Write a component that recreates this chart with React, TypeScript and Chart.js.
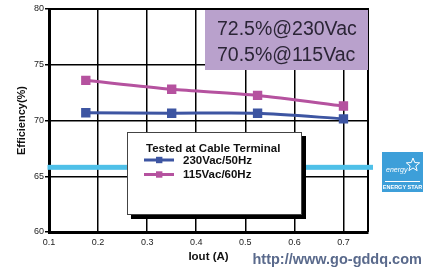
import React, { useEffect, useRef } from 'react';
import { Chart, registerables } from 'chart.js';

Chart.register(...registerables);

// ---- data ----
const LOAD_CURRENT = [0.175, 0.35, 0.525, 0.7];
const EFF_230VAC = [70.7, 70.65, 70.65, 70.15];
const EFF_115VAC = [73.6, 72.8, 72.25, 71.3];
const SERIES_LABELS = ['230Vac/50Hz', '115Vac/60Hz'];
const SERIES_COLORS = ['#3d55a2', '#b5529f'];
const LEGEND_TITLE = 'Tested at Cable Terminal';
const ANNOTATION_LINES = ['72.5%@230Vac', '70.5%@115Vac'];
const ENERGY_STAR_LIMIT = 65.8;
const X_RANGE = [0.1, 0.75];
const X_STEP = 0.1;
const Y_RANGE = [60, 80];
const Y_STEP = 5;
const X_TITLE = 'Iout (A)';
const Y_TITLE = 'Efficiency(%)';
const FOOTER_TEXT = 'http://www.go-gddq.com';

const FONT = '"Liberation Sans", Arial, Helvetica, sans-serif';

const overlayPlugin = {
  id: 'overlay',
  afterDatasetsDraw(chart: any) {
    const { ctx, chartArea: a, scales } = chart;
    ctx.save();
    // frame top/right
    ctx.strokeStyle = '#000';
    ctx.lineWidth = 2;
    ctx.beginPath();
    ctx.moveTo(a.left, a.top);
    ctx.lineTo(a.right, a.top);
    ctx.lineTo(a.right, a.bottom);
    ctx.stroke();

    // energy star limit line
    const yc = scales.y.getPixelForValue(ENERGY_STAR_LIMIT);
    ctx.fillStyle = '#4fc0e8';
    ctx.fillRect(a.left - 1.5, yc - 2.5, a.right - a.left + 6.5, 5);

    // annotation box
    const bx = a.left + 156;
    const by = a.top + 1;
    ctx.fillStyle = '#b9a1cc';
    ctx.fillRect(bx, by, a.right - bx, 60);
    ctx.fillStyle = '#2b2536';
    ctx.font = `19.5px ${FONT}`;
    ctx.textAlign = 'left';
    ctx.textBaseline = 'alphabetic';
    ctx.fillText(ANNOTATION_LINES[0], bx + 12, a.top + 26);
    ctx.fillText(ANNOTATION_LINES[1], bx + 12, a.top + 52);

    // legend box
    const lx = a.left + 78;
    const ly = a.top + 123;
    const lw = 175;
    const lh = 83;
    ctx.fillStyle = '#000';
    ctx.fillRect(lx + 4, ly + 4, lw, lh);
    ctx.fillStyle = '#fff';
    ctx.fillRect(lx, ly, lw, lh);
    ctx.strokeStyle = '#444';
    ctx.lineWidth = 1;
    ctx.strokeRect(lx + 0.5, ly + 0.5, lw - 1, lh - 1);
    ctx.fillStyle = '#111';
    ctx.font = `bold 11.5px ${FONT}`;
    ctx.fillText(LEGEND_TITLE, lx + 19, ly + 19.5);
    chart.data.datasets.forEach((ds: any, i: number) => {
      const cy = ly + 28 + i * 14.5;
      ctx.strokeStyle = ds.borderColor;
      ctx.lineWidth = 3;
      ctx.beginPath();
      ctx.moveTo(lx + 17, cy);
      ctx.lineTo(lx + 47, cy);
      ctx.stroke();
      ctx.fillStyle = ds.borderColor;
      ctx.fillRect(lx + 29, cy - 3.2, 6.4, 6.4);
      ctx.fillStyle = '#111';
      ctx.textBaseline = 'middle';
      ctx.fillText(ds.label, lx + 56, cy + 0.5);
      ctx.textBaseline = 'alphabetic';
    });
    ctx.restore();
  },
  afterDraw(chart: any) {
    const { ctx } = chart;
    ctx.save();
    // footer url
    ctx.fillStyle = '#5a6a8c';
    ctx.font = `bold 14.5px ${FONT}`;
    ctx.textAlign = 'left';
    ctx.textBaseline = 'alphabetic';
    ctx.fillText(FOOTER_TEXT, 252.5, 263.5);

    // energy star badge
    const ex = 382, ey = 152, ew = 41, eh = 40;
    ctx.fillStyle = '#3d9fd9';
    ctx.fillRect(ex, ey, ew, eh);
    ctx.strokeStyle = '#fff';
    ctx.lineWidth = 1;
    ctx.beginPath();
    ctx.moveTo(ex + 3, ey + 29.5);
    ctx.lineTo(ex + ew - 3, ey + 29.5);
    ctx.stroke();
    // star outline
    const sx = ex + 31, sy = ey + 13, R = 7, r = 3;
    ctx.beginPath();
    for (let k = 0; k < 10; k++) {
      const ang = -Math.PI / 2 + (k * Math.PI) / 5;
      const rr = k % 2 === 0 ? R : r;
      const px = sx + rr * Math.cos(ang);
      const py = sy + rr * Math.sin(ang);
      if (k === 0) ctx.moveTo(px, py); else ctx.lineTo(px, py);
    }
    ctx.closePath();
    ctx.stroke();
    ctx.fillStyle = '#fff';
    ctx.font = `italic 7px ${FONT}`;
    ctx.fillText('energy', ex + 4, ey + 20);
    ctx.font = `bold 5.5px ${FONT}`;
    ctx.textAlign = 'center';
    ctx.fillText('ENERGY STAR', ex + ew / 2, ey + 36.5);
    ctx.restore();
  },
};

export default function App() {
  const ref = useRef<HTMLCanvasElement | null>(null);

  useEffect(() => {
    if (!ref.current) return;
    const chart = new Chart(ref.current, {
      type: 'line',
      data: {
        datasets: [
          {
            label: SERIES_LABELS[0],
            data: LOAD_CURRENT.map((x, i) => ({ x, y: EFF_230VAC[i] })),
            borderColor: SERIES_COLORS[0],
            backgroundColor: SERIES_COLORS[0],
            borderWidth: 3,
            pointStyle: 'rect',
            pointRadius: 4.5,
            tension: 0.25,
          },
          {
            label: SERIES_LABELS[1],
            data: LOAD_CURRENT.map((x, i) => ({ x, y: EFF_115VAC[i] })),
            borderColor: SERIES_COLORS[1],
            backgroundColor: SERIES_COLORS[1],
            borderWidth: 3,
            pointStyle: 'rect',
            pointRadius: 4.5,
            tension: 0.25,
          },
        ],
      },
      options: {
        responsive: false,
        animation: false,
        devicePixelRatio: 1,
        layout: { padding: { left: 0, top: 9, right: 63, bottom: 0 } },
        plugins: { legend: { display: false }, tooltip: { enabled: false } },
        scales: {
          x: {
            type: 'linear',
            min: X_RANGE[0],
            max: X_RANGE[1],
            afterFit: (s: any) => { s.height = 41; },
            ticks: {
              stepSize: X_STEP,
              includeBounds: false,
              padding: 5,
              color: '#222',
              font: { family: FONT, size: 9 },
              callback: (v: any) => Number(v).toFixed(1),
            },
            grid: { color: '#000', lineWidth: 1.5, drawTicks: false },
            border: { display: true, color: '#000', width: 3 },
            title: {
              display: true,
              text: X_TITLE,
              color: '#111',
              font: { family: FONT, size: 11.5, weight: 'bold' },
              padding: { top: 0, bottom: 9 },
            },
          },
          y: {
            type: 'linear',
            min: Y_RANGE[0],
            max: Y_RANGE[1],
            afterFit: (s: any) => { s.width = 49; },
            ticks: {
              stepSize: Y_STEP,
              padding: 1,
              color: '#222',
              font: { family: FONT, size: 9 },
            },
            grid: { color: '#000', lineWidth: 1.5, tickLength: 4 },
            border: { display: true, color: '#000', width: 3 },
            title: {
              display: true,
              text: Y_TITLE,
              color: '#111',
              font: { family: FONT, size: 11, weight: 'bold' },
              padding: { top: 15, bottom: 0 },
            },
          },
        },
      },
      plugins: [overlayPlugin],
    });
    return () => chart.destroy();
  }, []);

  return (
    <div style={{ position: 'fixed', left: 0, top: 0, width: 431, height: 273, background: '#fff' }}>
      <canvas ref={ref} width={431} height={273} style={{ display: 'block' }} />
    </div>
  );
}
